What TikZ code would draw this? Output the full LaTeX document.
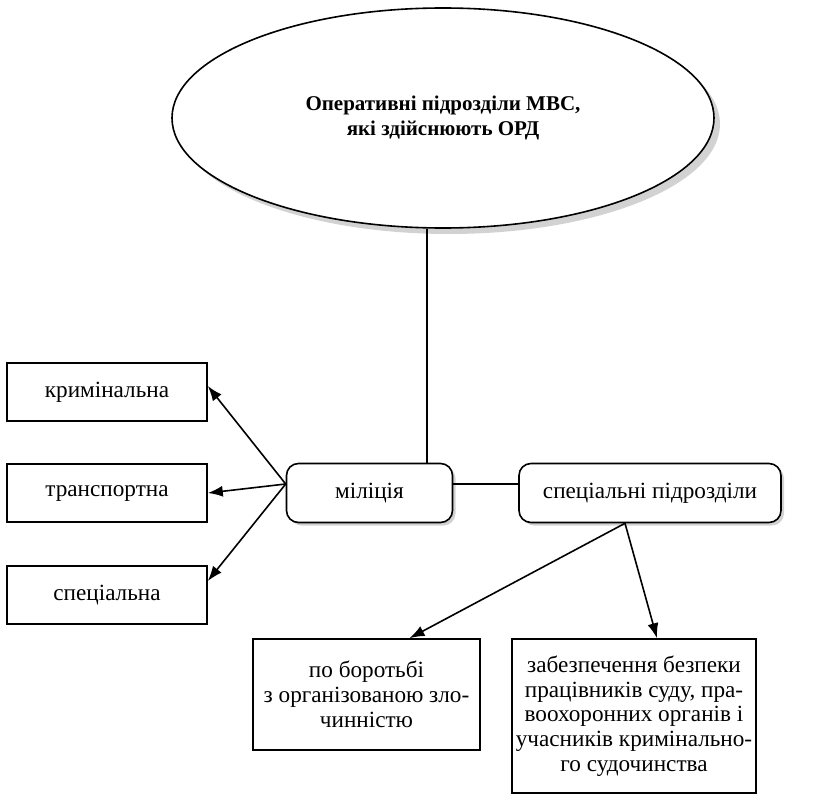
\documentclass[tikz,border=0pt]{standalone}
\usepackage{fontspec}
\setmainfont{Liberation Serif}
\usepackage{tikz}
\usetikzlibrary {arrows.meta,shapes.geometric,shadows}
\tikzset{
  box/.style={draw, thick, rectangle, fill=white, align=center, inner sep=2pt, font=\fontsize{11.6}{12.4}\selectfont},
  rbox/.style={box, rounded corners=6pt, drop shadow={shadow xshift=1.5pt, shadow yshift=-1.5pt, fill=gray!70}},
  arr/.style={thick, -{Latex[length=7.5pt,width=5.5pt]}}
}

\begin{document}
\begin{tikzpicture}[x=0.5pt, y=-0.5pt]
\useasboundingbox (0,0) rectangle (824,797);
\path (443,118) node (ord) [draw, thick, ellipse, fill=white, minimum width=271pt, minimum height=110pt, align=center, font=\bfseries\fontsize{10.5}{12.5}\selectfont, drop shadow={shadow xshift=3pt, shadow yshift=-3pt, fill=gray!70}] {Оперативні підрозділи МВС,\\ які здійснюють ОРД};
\path (369.5,493) node (mil) [rbox, minimum width=83pt, minimum height=29.5pt] {міліція};
\path (650,493) node (spec) [rbox, minimum width=131pt, minimum height=29.5pt] {спеціальні підрозділи};
\path (107,392) node (krym) [box, minimum width=100pt, minimum height=29pt] {кримінальна};
\path (107,493) node (trans) [box, minimum width=100pt, minimum height=29pt] {транспортна};
\path (107,595) node (specm) [box, minimum width=100pt, minimum height=29pt] {спеціальна};
\path (366.5,694.5) node (borot) [box, minimum width=113.5pt, minimum height=55.5pt] {по боротьбі\\ з організованою зло-\\ чинністю};
\path (634,716) node (bezp) [box, minimum width=121pt, minimum height=77pt] {забезпечення безпеки\\ працівників суду, пра-\\ воохоронних органів і\\ учасників кримінально-\\ го судочинства};
\coordinate (drop) at (427,0);
\draw[thick] (drop |- ord.south) -- (drop |- mil.north);
\draw[thick] ([yshift=4.5pt]mil.east) -- ([yshift=4.5pt]spec.west);
\draw[arr] ([yshift=4.5pt]mil.west) -- ([yshift=3pt]krym.east);
\draw[arr] ([yshift=4.5pt]mil.west) -- (trans.east);
\draw[arr] ([yshift=4.5pt]mil.west) -- ([yshift=7pt]specm.east);
\draw[arr] ([xshift=-12.5pt]spec.south) -- ([xshift=21.5pt]borot.north);
\draw[arr] ([xshift=-12.5pt]spec.south) -- ([xshift=11.5pt]bezp.north);
\end{tikzpicture}
\end{document}
